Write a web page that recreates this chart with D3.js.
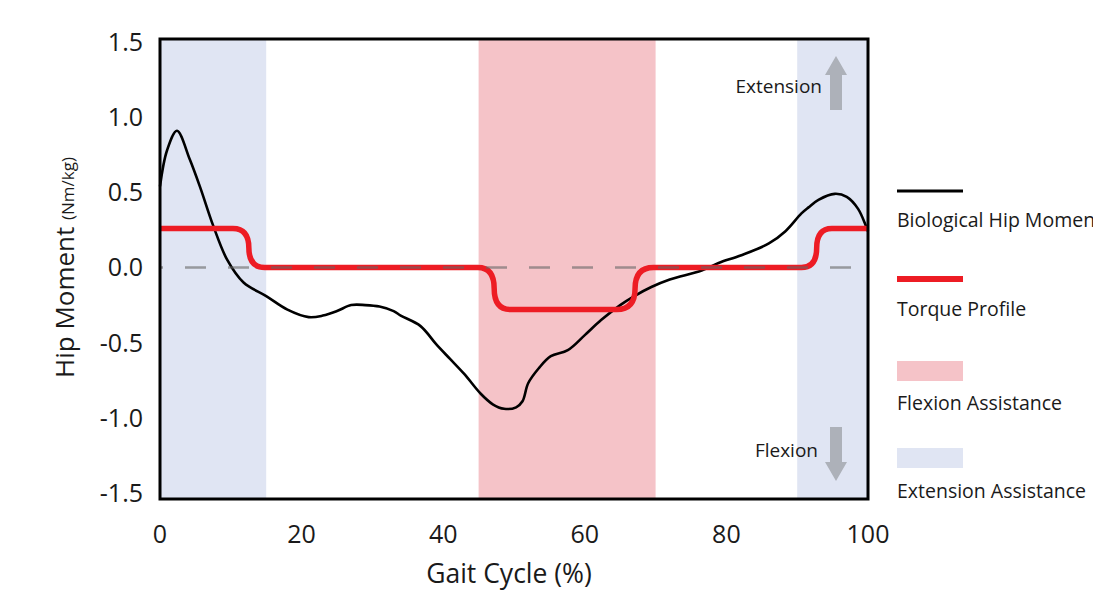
<!DOCTYPE html>
<html>
<head>
    <meta http-equiv="content-type" content="text/html; charset=utf-8" />
    <style>
        body { margin: 0; background: #fff; }
        svg text { font-family: "Open Sans", sans-serif; fill: #1a1a1a; }
    </style>
</head>
<body>
    <svg width="1093" height="590"></svg>

    <script src="https://d3js.org/d3.v7.min.js"></script>
    <script>
        // biological hip moment
        const bioX = [0, 1, 2.4, 4.2, 5.7, 7.5, 9.5, 11.8, 15, 18, 21, 23, 25, 27, 29, 31, 33, 34, 36.8, 39, 41, 43, 45.3, 47, 48.6, 50.3, 51.2, 52, 53.5, 55.2, 57.6, 60, 62.3, 65, 67, 69.4, 72, 76.5, 78.9, 82, 86, 88.3, 90.6, 91.6, 93, 95.3, 97, 98.6, 100]
        const bioY = [0.54, 0.78, 0.91, 0.72, 0.53, 0.28, 0.05, -0.10, -0.19, -0.28, -0.33, -0.32, -0.29, -0.25, -0.25, -0.26, -0.29, -0.32, -0.39, -0.51, -0.61, -0.71, -0.84, -0.91, -0.94, -0.93, -0.89, -0.77, -0.67, -0.59, -0.55, -0.45, -0.35, -0.25, -0.19, -0.13, -0.08, -0.02, 0.03, 0.08, 0.16, 0.24, 0.36, 0.40, 0.45, 0.49, 0.47, 0.39, 0.24]

        // torque profile: start/end of each level (steps drawn as rounded S)
        const torqueX = [0, 10.3, 14.8, 44.9, 49.5, 64.5, 69.7, 90.6, 94.9, 100]
        const torqueY = [0.26, 0.26, 0, 0, -0.28, -0.28, 0, 0, 0.26, 0.26]

        // assistance windows (% gait cycle)
        const extensionBands = [[0, 15], [90, 100]]
        const flexionBands = [[45, 70]]

        const xTicks = [0, 20, 40, 60, 80, 100]
        const yTicks = [1.5, 1.0, 0.5, 0.0, -0.5, -1.0, -1.5]

        const legendItems = ['Biological Hip Moment', 'Torque Profile', 'Flexion Assistance', 'Extension Assistance']

        const blue = '#e0e5f3'
        const pink = '#f5c3c8'
        const red = '#ed1c24'
        const arrowGray = '#adb1b9'

        const svg = d3.select('svg')

        const x = d3.scaleLinear().domain([0, 100]).range([160, 868])
        const y = d3.scaleLinear().domain([-1.54, 1.52]).range([499, 39])

        // bands
        svg.selectAll('.ext-band')
            .data(extensionBands)
            .enter().append('rect')
            .attr('x', d => x(d[0]))
            .attr('width', d => x(d[1]) - x(d[0]))
            .attr('y', y(1.52))
            .attr('height', y(-1.54) - y(1.52))
            .attr('fill', blue)

        svg.selectAll('.flex-band')
            .data(flexionBands)
            .enter().append('rect')
            .attr('x', d => x(d[0]))
            .attr('width', d => x(d[1]) - x(d[0]))
            .attr('y', y(1.52))
            .attr('height', y(-1.54) - y(1.52))
            .attr('fill', pink)

        // arrows
        const arrow = (cx, yTail, yHead) => {
            const dir = yHead < yTail ? -1 : 1
            const headLen = 19
            const yBase = yHead - dir * headLen
            return `M${cx - 6},${yTail} L${cx - 6},${yBase} L${cx - 11},${yBase} L${cx},${yHead} ` +
                `L${cx + 11},${yBase} L${cx + 6},${yBase} L${cx + 6},${yTail} Z`
        }
        svg.append('path').attr('d', arrow(836, 110, 56)).attr('fill', arrowGray)
        svg.append('path').attr('d', arrow(836, 427, 481)).attr('fill', arrowGray)

        svg.append('text').attr('x', 822).attr('y', 93)
            .attr('text-anchor', 'end').attr('font-size', 19).text('Extension')
        svg.append('text').attr('x', 818).attr('y', 457)
            .attr('text-anchor', 'end').attr('font-size', 19).text('Flexion')

        // curves
        const bio = bioX.map((v, i) => [v, bioY[i]])

        svg.append('path')
            .datum(bio)
            .attr('fill', 'none')
            .attr('stroke', '#000')
            .attr('stroke-width', 2.6)
            .attr('d', d3.line().x(d => x(d[0])).y(d => y(d[1])).curve(d3.curveCatmullRom.alpha(0.5)))

        const tp = d3.path()
        tp.moveTo(x(torqueX[0]), y(torqueY[0]))
        for (let i = 1; i < torqueX.length; i++) {
            const x0 = x(torqueX[i - 1]), y0 = y(torqueY[i - 1])
            const x1 = x(torqueX[i]), y1 = y(torqueY[i])
            if (y0 === y1) {
                tp.lineTo(x1, y1)
            } else {
                const xm = (x0 + x1) / 2, ym = (y0 + y1) / 2
                tp.quadraticCurveTo(xm, y0, xm, ym)
                tp.quadraticCurveTo(xm, y1, x1, y1)
            }
        }
        svg.append('path')
            .attr('fill', 'none')
            .attr('stroke', red)
            .attr('stroke-width', 5.5)
            .attr('d', tp.toString())

        // zero reference
        svg.append('line')
            .attr('x1', x(0)).attr('x2', x(100))
            .attr('y1', y(0)).attr('y2', y(0))
            .attr('stroke', '#666')
            .attr('stroke-opacity', 0.6)
            .attr('stroke-width', 2.5)
            .attr('stroke-dasharray', '21,22')
            .attr('stroke-dashoffset', 18)

        // frame
        svg.append('rect')
            .attr('x', x(0)).attr('y', y(1.52))
            .attr('width', x(100) - x(0))
            .attr('height', y(-1.54) - y(1.52))
            .attr('fill', 'none')
            .attr('stroke', '#000')
            .attr('stroke-width', 3)

        // tick labels
        svg.selectAll('.ytick')
            .data(yTicks)
            .enter().append('text')
            .attr('x', 143)
            .attr('y', d => y(d) + 9)
            .attr('text-anchor', 'end')
            .attr('font-size', 25)
            .text(d => d3.format('.1f')(d).replace('−', '-'))

        svg.selectAll('.xtick')
            .data(xTicks)
            .enter().append('text')
            .attr('x', d => x(d))
            .attr('y', 543)
            .attr('text-anchor', 'middle')
            .attr('font-size', 25)
            .text(d => d)

        // axis titles
        svg.append('text')
            .attr('x', 509).attr('y', 583)
            .attr('text-anchor', 'middle')
            .attr('font-size', 26.5)
            .text('Gait Cycle (%)')

        const yt = svg.append('text')
            .attr('transform', `translate(74,${y(0)}) rotate(-90)`)
            .attr('text-anchor', 'middle')
            .attr('font-size', 26)
        yt.append('tspan').text('Hip Moment ')
        yt.append('tspan').attr('font-size', 17).text('(Nm/kg)')

        // legend
        const lx = 897
        svg.append('line').attr('x1', lx).attr('x2', 963).attr('y1', 191).attr('y2', 191)
            .attr('stroke', '#000').attr('stroke-width', 3)
        svg.append('line').attr('x1', lx).attr('x2', 963).attr('y1', 279).attr('y2', 279)
            .attr('stroke', red).attr('stroke-width', 6)
        svg.append('rect').attr('x', lx).attr('y', 361).attr('width', 66).attr('height', 20).attr('fill', pink)
        svg.append('rect').attr('x', lx).attr('y', 448).attr('width', 66).attr('height', 20).attr('fill', blue)

        const legendY = [227, 316, 410, 498]
        svg.selectAll('.leg')
            .data(legendItems)
            .enter().append('text')
            .attr('x', lx)
            .attr('y', (d, i) => legendY[i])
            .attr('font-size', 19.5)
            .text(d => d)
    </script>
</body>
</html>
